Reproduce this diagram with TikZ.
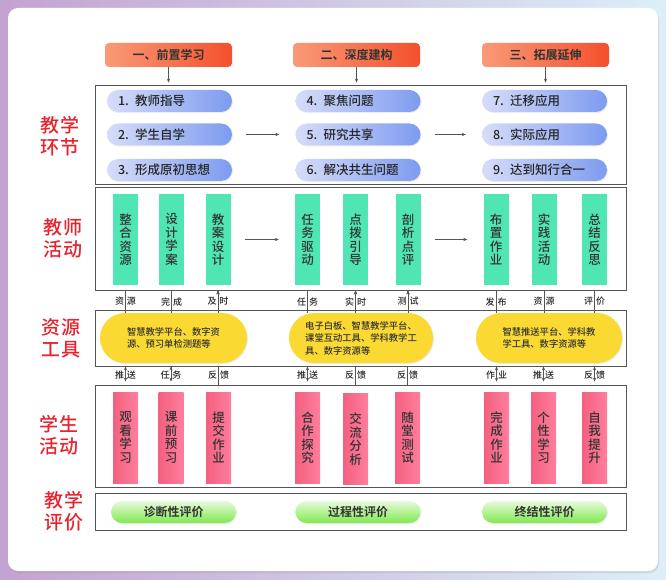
\documentclass[tikz,border=0pt]{standalone}
\usepackage{fontspec}
\setmainfont{Noto Sans CJK SC}[UprightFont=* Medium, BoldFont=* Bold]
\usetikzlibrary{arrows.meta,shadows}
\definecolor{bgLeft}{HTML}{C4A2D2}
\definecolor{bgRight}{HTML}{DCEFF8}
\definecolor{hdLeft}{HTML}{F99A78}
\definecolor{hdRight}{HTML}{F4502C}
\definecolor{stepLeft}{HTML}{D6DDF9}
\definecolor{stepRight}{HTML}{7D9BF0}
\definecolor{tchGreen}{HTML}{4FE6B4}
\definecolor{stuLeft}{HTML}{F4607F}
\definecolor{stuRight}{HTML}{FF7E9C}
\definecolor{toolYellow}{HTML}{FAD932}
\definecolor{evalTop}{HTML}{E8FADB}
\definecolor{evalBottom}{HTML}{7FE94F}
\definecolor{tagRed}{HTML}{E8232E}
\definecolor{frameGray}{HTML}{555555}
\begin{document}
\begin{tikzpicture}[x=1pt,y=-1pt,
    header/.style={rounded corners=4pt, left color=hdLeft, right color=hdRight,
      minimum width=127pt, minimum height=24pt, inner sep=0pt,
      font=\fontsize{12}{14}\selectfont\bfseries, text=black!80},
    rowbox/.style={draw=frameGray, line width=0.8pt, fill=white,
      minimum width=531pt, inner sep=0pt},
    steppill/.style={rounded corners=11pt, left color=stepLeft, right color=stepRight,
      minimum width=125pt, minimum height=22pt, text width=103pt,
      inner xsep=11pt, inner ysep=0pt, align=left,
      font=\fontsize{12.5}{14}\selectfont, text=black!85,
      drop shadow={shadow xshift=1pt, shadow yshift=-1pt, opacity=0.15}},
    tchbar/.style={fill=tchGreen, minimum width=25pt, minimum height=91pt,
      inner sep=0pt, align=center, font=\fontsize{12.5}{13.5}\selectfont, text=black!80},
    stubar/.style={left color=stuLeft, right color=stuRight, minimum width=25pt,
      minimum height=91pt, inner sep=0pt, align=center,
      font=\fontsize{12.5}{13.5}\selectfont, text=black!80},
    toolpill/.style={rounded corners=25pt, fill=toolYellow, minimum height=50pt,
      inner sep=0pt, align=left, font=\fontsize{9.3}{12.5}\selectfont, text=black!80,
      drop shadow={shadow xshift=1pt, shadow yshift=-1pt, opacity=0.15}},
    evalpill/.style={rounded corners=11pt, top color=evalTop, bottom color=evalBottom,
      minimum width=125pt, minimum height=22pt, inner sep=0pt,
      font=\fontsize{12}{14}\selectfont\bfseries, text=black!80,
      drop shadow={shadow xshift=1pt, shadow yshift=-1pt, opacity=0.12}},
    rowtag/.style={text=tagRed, align=center, font=\fontsize{19}{22}\selectfont},
    tag/.style={font=\fontsize{9}{10}\selectfont, inner sep=0pt, text=black!85},
    link/.style={draw=frameGray, line width=0.6pt, >={Stealth[length=4pt,width=3.2pt]}}
  ]
  \useasboundingbox (0,0) rectangle (666,580);
  \fill[left color=bgLeft, right color=bgRight] (0,0) rectangle (666,580);
  \fill[white, rounded corners=10pt,
    drop shadow={shadow xshift=1pt, shadow yshift=-2pt, opacity=0.2}] (8,8) rectangle (658,571);

  \node[header] (hdPre)  at (168.5,55) {一、前置学习};
  \node[header] (hdDeep) at (356.5,55) {二、深度建构};
  \node[header] (hdExt)  at (545.5,55) {三、拓展延伸};

  \node[rowbox, minimum height=99pt]  (rowStep) at (360.5,134.5) {};
  \node[rowbox, minimum height=103pt] (rowTch)  at (360.5,238.5) {};
  \node[rowbox, minimum height=56pt]  (rowTool) at (360.5,338) {};
  \node[rowbox, minimum height=102pt] (rowStu)  at (360.5,436) {};
  \node[rowbox, minimum height=37pt]  (rowEval) at (360.5,511.5) {};

  \node[rowtag] (tagStep) at (60,136) {教\hspace{2pt}学\\环\hspace{2pt}节};
  \node[rowtag] (tagTch)  at (63,238) {教\hspace{2pt}师\\活\hspace{2pt}动};
  \node[rowtag] (tagTool) at (61,338) {资\hspace{2pt}源\\工\hspace{2pt}具};
  \node[rowtag] (tagStu)  at (59,435) {学\hspace{2pt}生\\活\hspace{2pt}动};
  \node[rowtag] (tagEval) at (64,511) {教\hspace{2pt}学\\评\hspace{2pt}价};

  \node[steppill] (stepA) at (169.5,101)   {1. 教师指导};
  \node[steppill] (stepB) at (169.5,134.5) {2. 学生自学};
  \node[steppill] (stepC) at (169.5,170)   {3. 形成原初思想};
  \node[steppill] (stepD) at (358,101)     {4. 聚焦问题};
  \node[steppill] (stepE) at (358,134.5)   {5. 研究共享};
  \node[steppill] (stepF) at (358,170)     {6. 解决共生问题};
  \node[steppill] (stepG) at (544.5,101)   {7. 迁移应用};
  \node[steppill] (stepH) at (544.5,134.5) {8. 实际应用};
  \node[steppill] (stepI) at (544.5,170)   {9. 达到知行合一};

  \node[tchbar] (tchA) at (125.5,239.5) {整\\合\\资\\源};
  \node[tchbar] (tchB) at (171.5,239.5) {设\\计\\学\\案};
  \node[tchbar] (tchC) at (218,239.5)   {教\\案\\设\\计};
  \node[tchbar] (tchD) at (307.5,239.5) {任\\务\\驱\\动};
  \node[tchbar] (tchE) at (355.5,239.5) {点\\拨\\引\\导};
  \node[tchbar] (tchF) at (408,239.5)   {剖\\析\\点\\评};
  \node[tchbar] (tchG) at (496,239.5)   {布\\置\\作\\业};
  \node[tchbar] (tchH) at (544,239.5)   {实\\践\\活\\动};
  \node[tchbar] (tchI) at (594.5,239.5) {总\\结\\反\\思};

  \node[toolpill, minimum width=147pt] (toolA) at (173.5,338) {智慧教学平台、数字资\\源、预习单检测题等};
  \node[toolpill, minimum width=144pt] (toolB) at (361,338) {电子白板、智慧教学平台、\\课堂互动工具、学科教学工\\具、数字资源等};
  \node[toolpill, minimum width=146pt] (toolC) at (549,338) {智慧推送平台、学科教\\学工具、数字资源等};

  \node[stubar] (stuA) at (125.5,437.5) {观\\看\\学\\习};
  \node[stubar] (stuB) at (171,437.5)   {课\\前\\预\\习};
  \node[stubar] (stuC) at (218.5,437.5) {提\\交\\作\\业};
  \node[stubar] (stuD) at (307.5,437.5) {合\\作\\探\\究};
  \node[stubar] (stuE) at (355.5,439)   {交\\流\\分\\析};
  \node[stubar] (stuF) at (407.5,437.5) {随\\堂\\测\\试};
  \node[stubar] (stuG) at (496.5,437.5) {完\\成\\作\\业};
  \node[stubar] (stuH) at (543.5,437.5) {个\\性\\学\\习};
  \node[stubar] (stuI) at (594.5,437.5) {自\\我\\提\\升};

  \node[evalpill] (evalA) at (173.5,512) {诊断性评价};
  \node[evalpill] (evalB) at (358,512)   {过程性评价};
  \node[evalpill] (evalC) at (544.5,512) {终结性评价};

  \path[link,->] (hdPre)  edge[shorten >=2pt] (hdPre |- rowStep.north);
  \path[link,->] (hdDeep) edge[shorten >=2pt] (hdDeep |- rowStep.north);
  \path[link,->] (hdExt)  edge[shorten >=2pt] (hdExt |- rowStep.north);

  \path[link,->] (stepB) edge[shorten <=14pt, shorten >=16pt] (stepE);
  \path[link,->] (stepE) edge[shorten <=14pt, shorten >=16pt] (stepH);
  \path[link,->] (tchC)  edge[shorten <=14pt, shorten >=16pt] (tchD);
  \path[link,->] (tchF)  edge[shorten <=14pt, shorten >=16pt] (tchG);

  \path[link] (tchA |- rowTch.south) edge node[tag] (upA) {资\hspace{3pt}源} (tchA |- toolA.north);
  \path[link] (tchB |- rowTch.south) edge node[tag] (upB) {完\hspace{3pt}成} (tchB |- toolA.north);
  \path[link,<-] (tchC |- rowTch.south) edge node[tag] (upC) {及\hspace{3pt}时} (tchC |- toolA.north);
  \path[link] (tchD |- rowTch.south) edge node[tag] (upD) {任\hspace{3pt}务} (tchD |- toolB.north);
  \path[link,<-] (tchE |- rowTch.south) edge node[tag] (upE) {实\hspace{3pt}时} (tchE |- toolB.north);
  \path[link,<-] (tchF |- rowTch.south) edge node[tag] (upF) {测\hspace{3pt}试} (tchF |- toolB.north);
  \path[link] (tchG |- rowTch.south) edge node[tag] (upG) {发\hspace{3pt}布} (tchG |- toolC.north);
  \path[link] (tchH |- rowTch.south) edge node[tag] (upH) {资\hspace{3pt}源} (tchH |- toolC.north);
  \path[link] (tchI |- rowTch.south) edge node[tag] (upI) {评\hspace{3pt}价} (tchI |- toolC.north);

  \path[link,->] (stuA |- rowTool.south) edge[shorten >=3pt] node[tag] (lowA) {推\hspace{3pt}送} (stuA |- rowStu.north);
  \path[link,->] (stuB |- rowTool.south) edge[shorten >=3pt] node[tag] (lowB) {任\hspace{3pt}务} (stuB |- rowStu.north);
  \path[link] (stuC |- rowTool.south) edge node[tag] (lowC) {反\hspace{3pt}馈} (stuC |- rowStu.north);
  \path[link,->] (stuD |- rowTool.south) edge[shorten >=3pt] node[tag] (lowD) {推\hspace{3pt}送} (stuD |- rowStu.north);
  \path[link] (stuE |- rowTool.south) edge node[tag] (lowE) {反\hspace{3pt}馈} (stuE |- rowStu.north);
  \path[link] (stuF |- rowTool.south) edge node[tag] (lowF) {反\hspace{3pt}馈} (stuF |- rowStu.north);
  \path[link,->] (stuG |- rowTool.south) edge[shorten >=3pt] node[tag] (lowG) {作\hspace{3pt}业} (stuG |- rowStu.north);
  \path[link,->] (stuH |- rowTool.south) edge[shorten >=3pt] node[tag] (lowH) {推\hspace{3pt}送} (stuH |- rowStu.north);
  \path[link,->] (stuI |- rowTool.south) edge[shorten >=3pt] node[tag] (lowI) {反\hspace{3pt}馈} (stuI |- rowStu.north);
\end{tikzpicture}
\end{document}
